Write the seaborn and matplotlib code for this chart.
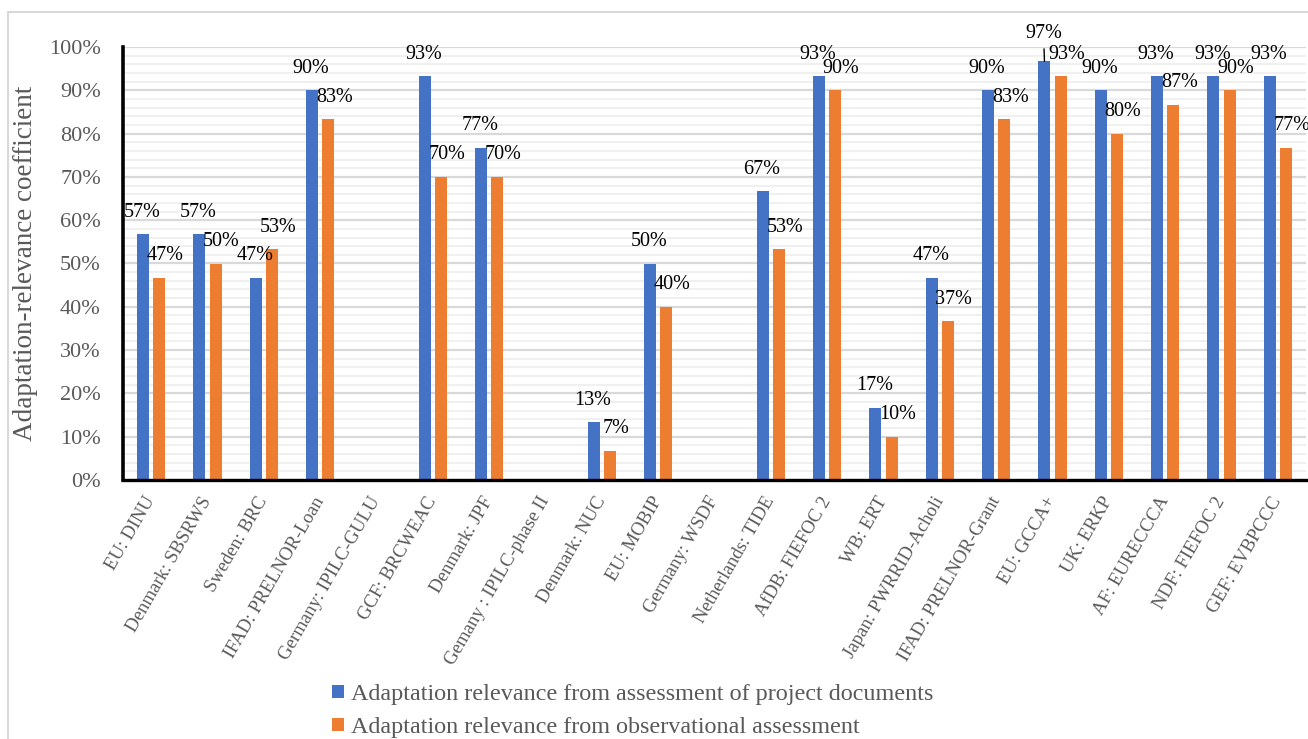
import numpy as np
import pandas as pd
import matplotlib
matplotlib.use("Agg")
import matplotlib.pyplot as plt
from matplotlib.patches import Rectangle
from matplotlib.ticker import MultipleLocator, PercentFormatter
import seaborn as sns

# Projects (donor: project acronym)
projects = [
    "EU: DINU", "Denmark: SBSRWS", "Sweden: BRC", "IFAD: PRELNOR-Loan",
    "Germany: IPILC-GULU", "GCF: BRCWEAC", "Denmark: JPF",
    "Gemany : IPILC-phase II", "Denmark: NUC", "EU: MOBIP", "Germany: WSDF",
    "Netherlands: TIDE", "AfDB: FIEFOC 2", "WB: ERT", "Japan: PWRRID-Acholi",
    "IFAD: PRELNOR-Grant", "EU: GCCA+", "UK: ERKP", "AF: EURECCCA",
    "NDF: FIEFOC 2", "GEF: EVBPCCC",
]

# Adaptation-relevance coefficients (share of criteria met); NaN = not assessed
documents = [0.567, 0.567, 0.467, 0.900, np.nan, 0.933, 0.767, np.nan, 0.133,
             0.500, np.nan, 0.667, 0.933, 0.167, 0.467, 0.900, 0.967, 0.900,
             0.933, 0.933, 0.933]
observed = [0.467, 0.500, 0.533, 0.833, np.nan, 0.700, 0.700, np.nan, 0.067,
            0.400, np.nan, 0.533, 0.900, 0.100, 0.367, 0.833, 0.933, 0.800,
            0.867, 0.900, 0.767]

series_names = [
    "Adaptation relevance from assessment of project documents",
    "Adaptation relevance from observational assessment",
]

BLUE = "#4472C4"
ORANGE = "#ED7D31"
GREY = "#595959"

sns.set_theme(style="white")
plt.rcParams["font.family"] = ["Liberation Serif", "DejaVu Serif"]

df = pd.DataFrame({
    "project": projects,
    series_names[0]: documents,
    series_names[1]: observed,
}).melt(id_vars="project", var_name="series", value_name="value").dropna()

W, H = 1308, 739
fig = plt.figure(figsize=(W / 100, H / 100), dpi=100)
ax = fig.add_axes([123 / W, 1 - 480 / H, (1306 - 123) / W, (480 - 47) / H])

sns.barplot(
    data=df, x="project", y="value", hue="series",
    order=projects, hue_order=series_names,
    palette=[BLUE, ORANGE], saturation=1,
    width=0.57, gap=0.25, errorbar=None, linewidth=0, ax=ax,
)

ax.set_ylim(0, 1.0)
ax.set_xlim(-0.5, len(projects) - 0.5)
ax.yaxis.set_major_locator(MultipleLocator(0.1))
ax.yaxis.set_minor_locator(MultipleLocator(0.02))
ax.yaxis.set_major_formatter(PercentFormatter(1.0, decimals=0))
ax.set_axisbelow(True)
ax.grid(which="major", axis="y", color="#D9D9D9", lw=1.6)
ax.grid(which="minor", axis="y", color="#EDEDED", lw=1.2)
ax.grid(which="major", axis="x", visible=False)

for side in ("top", "right"):
    ax.spines[side].set_visible(False)
ax.spines["left"].set_color("black")
ax.spines["left"].set_linewidth(2.6)
ax.spines["bottom"].set_color("black")
ax.spines["bottom"].set_linewidth(2.4)

ax.tick_params(axis="y", which="both", length=0, pad=16, labelsize=16,
               labelcolor=GREY)
ax.tick_params(axis="x", length=0, pad=13, labelsize=13.5, labelcolor=GREY)
ax.set_xticks(range(len(projects)))
ax.set_xticklabels(projects, rotation=60, ha="right", va="center",
                   rotation_mode="anchor")

ax.set_xlabel("")
ax.set_ylabel("Adaptation-relevance coefficient", fontsize=19.5, color=GREY,
              labelpad=8)

# Value labels above each bar
label_shift = {0: -1, 1: 6}
for k, container in enumerate(ax.containers):
    for bar in container:
        h = bar.get_height()
        if not np.isfinite(h) or h <= 0:
            continue
        cx = bar.get_x() + bar.get_width() / 2
        if k == 0 and h == max(documents):
            ax.annotate(f"{h:.0%}", (cx, h), xytext=(-1, 28),
                        textcoords="offset pixels", ha="center", va="center",
                        fontsize=14.5, color="black", annotation_clip=False,
                        arrowprops=dict(arrowstyle="-", color="black", lw=1,
                                        shrinkA=2, shrinkB=0))
        else:
            ax.annotate(f"{h:.0%}", (cx, h), xytext=(label_shift[k], 22),
                        textcoords="offset pixels", ha="center", va="center",
                        fontsize=14.5, color="black", annotation_clip=False)

handles, labels = ax.get_legend_handles_labels()
if ax.get_legend() is not None:
    ax.get_legend().remove()
fig.legend(handles, labels, loc="upper left",
           bbox_to_anchor=(332 / W, 1 - 684 / H), frameon=False,
           fontsize=17.4, labelcolor=GREY, handlelength=0.5,
           handleheight=0.5, handletextpad=0.3, labelspacing=0.5,
           borderaxespad=0, borderpad=0)

# Light outer frame around the chart area
fig.patches.append(Rectangle((8 / W, -0.05), 1.2, 1 - 12 / H + 0.05,
                             transform=fig.transFigure, fill=False,
                             ec="#D9D9D9", lw=1.5))

fig.savefig("out.png", dpi=100)
